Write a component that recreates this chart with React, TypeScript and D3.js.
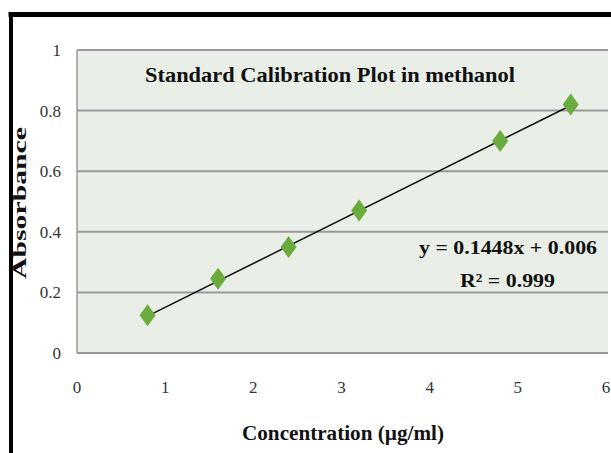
import React from "react";
import * as d3 from "d3";

const concentrations = [0.8, 1.6, 2.4, 3.2, 4.8, 5.6];
const absorbances = [0.125, 0.245, 0.35, 0.47, 0.70, 0.82];
const xTicks = [0, 1, 2, 3, 4, 5, 6];
const yTicks = [0, 0.2, 0.4, 0.6, 0.8, 1];
const slope = 0.1448;
const intercept = 0.006;
const titleText = "Standard Calibration Plot in methanol";
const xLabel = "Concentration (µg/ml)";
const yLabel = "Absorbance";
const eqText = "y = 0.1448x + 0.006";

export default function App() {
  const W = 611, H = 453;
  const left = 77, right = 606, top = 50, bottom = 353;
  const x = d3.scaleLinear().domain([0, 6]).range([left, right]);
  const y = d3.scaleLinear().domain([0, 1]).range([bottom, top]);
  const serif = "'Liberation Serif', 'DejaVu Serif', serif";
  const xMin = d3.min(concentrations)!;
  const xMax = d3.max(concentrations)!;
  const line = d3.line<number>().x(d => x(d)).y(d => y(slope * d + intercept));
  const diamond = (cx: number, cy: number) =>
    `M${cx},${cy - 11}L${cx + 8},${cy}L${cx},${cy + 11}L${cx - 8},${cy}Z`;
  return (
    <svg width={W} height={H} style={{ position: "absolute", left: 0, top: 0, background: "#fff" }}>
      <rect x={0} y={0} width={W} height={H} fill="#fff" />
      <line x1={8.5} x2={W + 5} y1={14.5} y2={14.5} stroke="#000" strokeWidth={5} />
      <line x1={11} x2={11} y1={12} y2={H + 5} stroke="#000" strokeWidth={4} />
      <rect x={left} y={top} width={608 - left} height={bottom - top} fill="#e9eee6" />
      {yTicks.map(t => (
        <line key={t} x1={left} x2={608} y1={y(t)} y2={y(t)} stroke="#9a9a9a" strokeWidth={2} />
      ))}
      <line x1={left} x2={left} y1={top} y2={bottom} stroke="#9a9a9a" strokeWidth={1.5} />
      {yTicks.map(t => (
        <text key={t} x={61} y={y(t)} dy="0.35em" textAnchor="end" fontFamily={serif} fontSize={17} fill="#333">
          {t === 0 || t === 1 ? String(t) : t.toFixed(1)}
        </text>
      ))}
      {xTicks.map(t => (
        <text key={t} x={x(t)} y={393} textAnchor="middle" fontFamily={serif} fontSize={17} fill="#333">
          {t}
        </text>
      ))}
      <path d={line([xMin, xMax]) || ""} fill="none" stroke="#111" strokeWidth={1.5} />
      {concentrations.map((c, i) => (
        <path key={c} d={diamond(x(c), y(absorbances[i]))} fill="#6aab3e" />
      ))}
      <text x={145} y={82} fontFamily={serif} fontWeight="bold" fontSize={21} fill="#111"
        textLength={370} lengthAdjust="spacingAndGlyphs">{titleText}</text>
      <text x={419} y={254} fontFamily={serif} fontWeight="bold" fontSize={19} fill="#111"
        textLength={178} lengthAdjust="spacingAndGlyphs">{eqText}</text>
      <text x={460} y={287} fontFamily={serif} fontWeight="bold" fontSize={19} fill="#111"
        textLength={95} lengthAdjust="spacingAndGlyphs">R² = 0.999</text>
      <text x={343} y={440} textAnchor="middle" fontFamily={serif} fontWeight="bold" fontSize={20} fill="#111"
        textLength={202} lengthAdjust="spacingAndGlyphs">{xLabel}</text>
      <text transform={`translate(26,203) rotate(-90)`} textAnchor="middle" fontFamily={serif} fontWeight="bold"
        fontSize={19} fill="#111" textLength={152} lengthAdjust="spacingAndGlyphs">{yLabel}</text>
    </svg>
  );
}
